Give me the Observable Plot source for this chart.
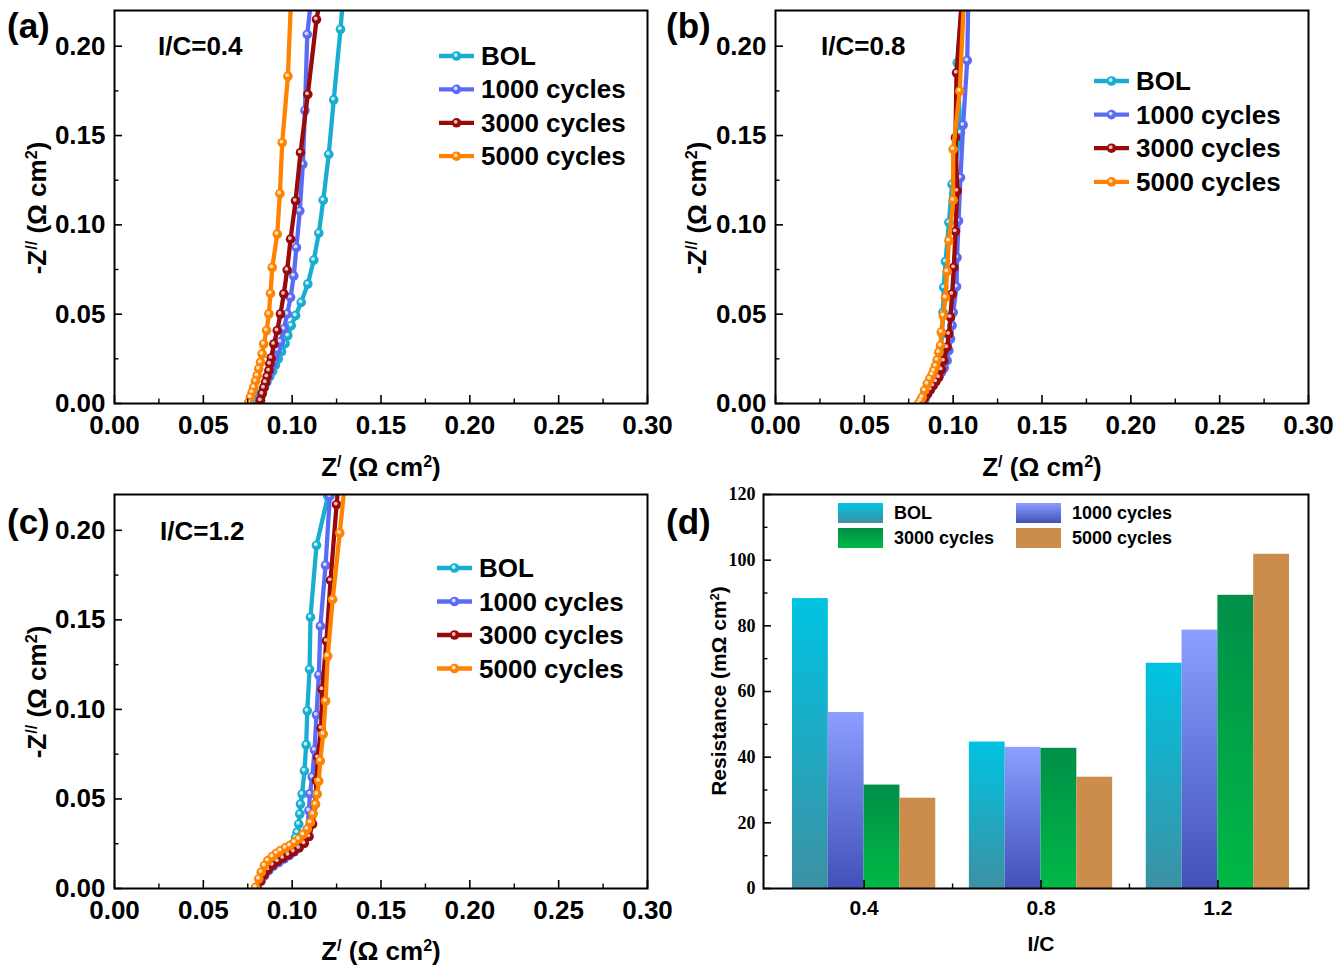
<!DOCTYPE html>
<html><head><meta charset="utf-8">
<script src="https://cdn.jsdelivr.net/npm/d3@7"></script>
<script src="https://cdn.jsdelivr.net/npm/@observablehq/plot@0.6"></script>
<style>
body{margin:0;background:#fff;}
#fig{position:relative;width:1342px;height:973px;overflow:hidden;background:#fff;}
</style></head><body><div id="fig"></div>
<script>
// ---------- data ----------
const seriesNames = ["BOL", "1000 cycles", "3000 cycles", "5000 cycles"];
const lineColors = ["#19aed0", "#5a6cf6", "#990a0a", "#ff8300"];

// Panel (a) I/C = 0.4
const A_BOL_x  = [0.0800,0.0812,0.0826,0.0842,0.0858,0.0874,0.0890,0.0906,0.0922,0.0940,0.0960,0.0976,0.0995,0.1019,0.1051,0.1088,0.1122,0.1150,0.1175,0.1206,0.1234,0.1272,0.1285];
const A_BOL_y  = [0.0000,0.0030,0.0060,0.0090,0.0120,0.0150,0.0180,0.0215,0.0250,0.0290,0.0335,0.0380,0.0436,0.0492,0.0566,0.0669,0.0803,0.0954,0.1138,0.1395,0.1700,0.2095,0.2250];
const A_1000_x = [0.0812,0.0822,0.0833,0.0844,0.0855,0.0866,0.0878,0.0890,0.0903,0.0916,0.0934,0.0953,0.0972,0.0991,0.1009,0.1024,0.1043,0.1060,0.1072,0.1085,0.1105];
const A_1000_y = [0.0000,0.0030,0.0060,0.0090,0.0120,0.0150,0.0185,0.0220,0.0260,0.0300,0.0345,0.0417,0.0501,0.0594,0.0715,0.0873,0.1078,0.1339,0.1640,0.2066,0.2250];
const A_3000_x = [0.0822,0.0831,0.0840,0.0850,0.0859,0.0869,0.0874,0.0882,0.0897,0.0916,0.0934,0.0953,0.0972,0.0991,0.1019,0.1047,0.1088,0.1137,0.1155];
const A_3000_y = [0.0017,0.0054,0.0088,0.0119,0.0151,0.0184,0.0222,0.0255,0.0333,0.0408,0.0501,0.0613,0.0747,0.0920,0.1134,0.1404,0.1730,0.2149,0.2250];
const A_5000_x = [0.0756,0.0765,0.0775,0.0784,0.0794,0.0803,0.0812,0.0822,0.0831,0.0840,0.0856,0.0869,0.0878,0.0888,0.0916,0.0931,0.0944,0.0976,0.0993];
const A_5000_y = [0.0007,0.0035,0.0063,0.0091,0.0125,0.0156,0.0194,0.0231,0.0277,0.0333,0.0408,0.0501,0.0616,0.0762,0.0948,0.1175,0.1460,0.1832,0.2250];

// Panel (b) I/C = 0.8
const B_BOL_x  = [0.0812,0.0822,0.0833,0.0846,0.0860,0.0874,0.0888,0.0900,0.0912,0.0922,0.0930,0.0938,0.0943,0.0947,0.0957,0.0976,0.0994,0.1041,0.1023,0.1050];
const B_BOL_y  = [0.0000,0.0020,0.0040,0.0065,0.0090,0.0118,0.0145,0.0175,0.0210,0.0250,0.0300,0.0390,0.0510,0.0650,0.0795,0.1013,0.1227,0.1516,0.1907,0.2250];
const B_1000_x = [0.0830,0.0842,0.0855,0.0870,0.0886,0.0902,0.0918,0.0935,0.0950,0.0966,0.0976,0.0985,0.0994,0.1000,0.1019,0.1022,0.1030,0.1041,0.1056,0.1079,0.1085];
const B_1000_y = [0.0000,0.0025,0.0050,0.0075,0.0100,0.0125,0.0150,0.0175,0.0200,0.0240,0.0296,0.0361,0.0436,0.0510,0.0654,0.0817,0.1022,0.1264,0.1559,0.1920,0.2250];
const B_3000_x = [0.0815,0.0828,0.0842,0.0857,0.0872,0.0887,0.0903,0.0919,0.0934,0.0947,0.0966,0.0976,0.0985,0.0994,0.1004,0.1013,0.1023,0.1013,0.1019,0.1048];
const B_3000_y = [0.0000,0.0018,0.0037,0.0057,0.0078,0.0100,0.0123,0.0147,0.0190,0.0240,0.0315,0.0389,0.0483,0.0613,0.0762,0.0963,0.1190,0.1488,0.1851,0.2250];
const B_5000_x = [0.0807,0.0817,0.0826,0.0839,0.0854,0.0868,0.0882,0.0891,0.0901,0.0910,0.0919,0.0929,0.0933,0.0944,0.0957,0.0966,0.0976,0.1000,0.1000,0.1037,0.1060];
const B_5000_y = [0.0000,0.0017,0.0035,0.0073,0.0110,0.0138,0.0162,0.0184,0.0210,0.0244,0.0287,0.0324,0.0400,0.0492,0.0594,0.0739,0.0911,0.1138,0.1423,0.1749,0.2250];

// Panel (c) I/C = 1.2
const C_BOL_x  = [0.0800,0.0818,0.0835,0.0855,0.0880,0.0905,0.0930,0.0958,0.0985,0.1005,0.1020,0.1028,0.1037,0.1043,0.1047,0.1056,0.1069,0.1079,0.1085,0.1098,0.1103,0.1137,0.1201,0.1215];
const C_BOL_y  = [0.0000,0.0045,0.0080,0.0112,0.0140,0.0162,0.0180,0.0198,0.0220,0.0250,0.0285,0.0314,0.0360,0.0416,0.0471,0.0527,0.0657,0.0802,0.0992,0.1224,0.1515,0.1916,0.2190,0.2250];
const C_1000_x = [0.0805,0.0825,0.0845,0.0868,0.0895,0.0925,0.0955,0.0985,0.1012,0.1040,0.1065,0.1085,0.1094,0.1100,0.1113,0.1126,0.1137,0.1150,0.1159,0.1188,0.1212,0.1222];
const C_1000_y = [0.0000,0.0040,0.0072,0.0100,0.0125,0.0145,0.0165,0.0185,0.0205,0.0230,0.0265,0.0330,0.0435,0.0529,0.0622,0.0773,0.0969,0.1192,0.1465,0.1805,0.2190,0.2250];
const C_3000_x = [0.0802,0.0822,0.0842,0.0865,0.0890,0.0918,0.0948,0.0978,0.1008,0.1038,0.1068,0.1095,0.1115,0.1130,0.1137,0.1144,0.1163,0.1169,0.1193,0.1216,0.1250,0.1260];
const C_3000_y = [0.0000,0.0042,0.0076,0.0106,0.0132,0.0152,0.0170,0.0188,0.0206,0.0226,0.0252,0.0290,0.0360,0.0470,0.0602,0.0732,0.0895,0.1112,0.1382,0.1720,0.2143,0.2250];
const C_5000_x = [0.0794,0.0812,0.0826,0.0844,0.0863,0.0888,0.0912,0.0934,0.0962,0.0987,0.1013,0.1037,0.1062,0.1085,0.1103,0.1118,0.1131,0.1141,0.1150,0.1158,0.1175,0.1188,0.1200,0.1228,0.1268,0.1295];
const C_5000_y = [0.0007,0.0054,0.0091,0.0128,0.0156,0.0178,0.0197,0.0212,0.0227,0.0240,0.0258,0.0276,0.0301,0.0332,0.0369,0.0416,0.0471,0.0527,0.0600,0.0713,0.0862,0.1047,0.1298,0.1614,0.1985,0.2250];

// Panel (d) resistance bars
const icCategories = ["0.4", "0.8", "1.2"];
const resBOL  = [88.3, 44.6, 68.6];
const res1000 = [53.6, 43.0, 78.7];
const res3000 = [31.5, 42.7, 89.3];
const res5000 = [27.5, 33.9, 101.8];

// Tick values / labels
const zTicks = [0, 0.05, 0.10, 0.15, 0.20, 0.25, 0.30];
const zMinor = [0.025, 0.075, 0.125, 0.175, 0.225, 0.275];
const zyTicks = [0, 0.05, 0.10, 0.15, 0.20];
const zyMinor = [0.025, 0.075, 0.125, 0.175];
const rTicks = [0, 20, 40, 60, 80, 100, 120];
const rMinor = [10, 30, 50, 70, 90, 110];

// ---------- drawing ----------
const SANS = "'Liberation Sans', Arial, Helvetica, sans-serif";
const SERIF = "'Liberation Serif', 'Times New Roman', serif";
const fig = document.getElementById("fig");
function place(svg, left, top) {
  svg.style.position = "absolute";
  svg.style.left = left + "px";
  svg.style.top = top + "px";
  svg.style.maxWidth = "none";
  fig.appendChild(svg);
}

function nyquist(series, left, top, width, height, mL, mR, mT, mB) {
  const fw = width - mL - mR, fh = height - mT - mB;
  const marks = [];
  series.forEach(([xs, ys], i) => {
    const pts = xs.map((x, k) => ({x, y: ys[k]}));
    marks.push(Plot.line(pts, {x: "x", y: "y", stroke: lineColors[i], strokeWidth: 4.3, clip: true}));
    marks.push(Plot.dot(pts, {x: "x", y: "y", r: 4.8, fill: lineColors[i], clip: true}));
    marks.push(Plot.dot(pts, {x: "x", y: "y", r: 1.9, fill: "white", fillOpacity: 0.75, dx: -0.8, dy: -1.1, clip: true}));
  });
  marks.push(
    Plot.frame({stroke: "black", strokeWidth: 2}),
    Plot.tickX(zTicks, {x: d => d, insetTop: fh - 8, stroke: "black", strokeWidth: 1.6}),
    Plot.tickX(zMinor, {x: d => d, insetTop: fh - 4.5, stroke: "black", strokeWidth: 1.4}),
    Plot.tickY(zyTicks, {y: d => d, insetRight: fw - 8, stroke: "black", strokeWidth: 1.6}),
    Plot.tickY(zyMinor, {y: d => d, insetRight: fw - 4.5, stroke: "black", strokeWidth: 1.4}),
    Plot.axisX({ticks: zTicks, tickSize: 0, tickPadding: 12, tickFormat: d3.format(".2f"), label: null, fontSize: 26, fontWeight: "bold"}),
    Plot.axisY({ticks: zyTicks, tickSize: 0, tickPadding: 9, tickFormat: d3.format(".2f"), label: null, fontSize: 26, fontWeight: "bold"})
  );
  const svg = Plot.plot({
    width, height, marginLeft: mL, marginRight: mR, marginTop: mT, marginBottom: mB,
    x: {domain: [0, 0.30]}, y: {domain: [0, 0.22]},
    style: {fontFamily: SANS, fontSize: "26px", fontWeight: "bold", color: "black", background: "transparent", overflow: "visible"},
    marks
  });
  place(svg, left, top);
}

nyquist([[A_BOL_x, A_BOL_y], [A_1000_x, A_1000_y], [A_3000_x, A_3000_y], [A_5000_x, A_5000_y]], 0, 0, 671, 486, 114, 24, 10, 83);
nyquist([[B_BOL_x, B_BOL_y], [B_1000_x, B_1000_y], [B_3000_x, B_3000_y], [B_5000_x, B_5000_y]], 671, 0, 671, 486, 104, 34, 10, 83);
nyquist([[C_BOL_x, C_BOL_y], [C_1000_x, C_1000_y], [C_3000_x, C_3000_y], [C_5000_x, C_5000_y]], 0, 486, 671, 487, 114, 24, 8, 85);

// Panel (d)
(function () {
  const width = 671, height = 487, mL = 92, mR = 34, mT = 8, mB = 85;
  const fh = height - mT - mB;
  const rng = [104, 635], pIn = 0.19, pOut = 0.096;
  const step = (rng[1] - rng[0]) / (icCategories.length - pIn + 2 * pOut);
  const bandW = step * (1 - pIn);
  const bw = bandW / 4;
  const resSeries = [resBOL, res1000, res3000, res5000];
  const marks = resSeries.map((vals, i) =>
    Plot.barY(icCategories.map((c, j) => ({cat: c, value: vals[j]})), {
      x: "cat", y: "value", fill: `url(#barGrad${i})`,
      insetLeft: i * bw, insetRight: (3 - i) * bw
    })
  );
  marks.push(
    Plot.frame({stroke: "black", strokeWidth: 2}),
    Plot.tickX(icCategories, {x: d => d, insetTop: fh - 8, stroke: "black", strokeWidth: 1.6}),
    Plot.tickX(icCategories.slice(0, 2), {x: d => d, dx: step / 2, insetTop: fh - 4.5, stroke: "black", strokeWidth: 1.4}),
    Plot.tickY(rTicks, {y: d => d, insetRight: (width - mL - mR) - 8, stroke: "black", strokeWidth: 1.6}),
    Plot.tickY(rMinor, {y: d => d, insetRight: (width - mL - mR) - 4.5, stroke: "black", strokeWidth: 1.4}),
    Plot.axisX({tickSize: 0, tickPadding: 12, label: null, fontSize: 21, fontWeight: "bold", fontFamily: SANS}),
    Plot.axisY({ticks: rTicks, tickSize: 0, tickPadding: 8, label: null, fontSize: 18, fontWeight: "bold", fontFamily: SERIF})
  );
  const svg = Plot.plot({
    width, height, marginLeft: mL, marginRight: mR, marginTop: mT, marginBottom: mB,
    x: {domain: icCategories, range: rng, paddingInner: pIn, paddingOuter: pOut, round: false},
    y: {domain: [0, 120]},
    style: {fontFamily: SANS, fontWeight: "bold", color: "black", background: "transparent", overflow: "visible"},
    marks
  });
  const grads = [["#00c3e2", "#3c91a3"], ["#8c9eff", "#4151b9"], ["#008f48", "#00b946"], ["#cc8c4b", "#cc8c4b"]];
  const defs = d3.select(svg).insert("defs", ":first-child");
  grads.forEach(([c0, c1], i) => {
    const g = defs.append("linearGradient").attr("id", `barGrad${i}`).attr("x1", 0).attr("y1", 0).attr("x2", 0).attr("y2", 1);
    g.append("stop").attr("offset", "0%").attr("stop-color", c0);
    g.append("stop").attr("offset", "100%").attr("stop-color", c1);
  });
  place(svg, 671, 486);
})();

// ---------- annotations (labels, titles, legends) ----------
const ann = d3.select(fig).append("svg")
  .attr("width", 1342).attr("height", 973)
  .style("position", "absolute").style("left", "0px").style("top", "0px")
  .style("pointer-events", "none")
  .attr("font-family", SANS).attr("font-weight", "bold").attr("fill", "black");

function rich(parts, x, y, size, anchor, rotate) {
  const t = ann.append("text").attr("font-size", size).attr("text-anchor", anchor || "start");
  if (rotate) t.attr("transform", `translate(${x},${y}) rotate(${rotate})`);
  else t.attr("x", x).attr("y", y);
  parts.forEach(p => {
    if (typeof p === "string") t.append("tspan").text(p);
    else t.append("tspan").attr("baseline-shift", "super").attr("font-size", "62%").text(p.sup);
  });
  return t;
}

// panel labels
rich(["(a)"], 7, 38, 35);
rich(["(b)"], 666, 38, 35);
rich(["(c)"], 7, 534, 35);
rich(["(d)"], 666, 534, 35);

// condition labels
rich(["I/C=0.4"], 158, 55, 26);
rich(["I/C=0.8"], 821, 55, 26);
rich(["I/C=1.2"], 160, 540, 26);

// axis titles
const zx = ["Z", {sup: "/"}, " (Ω cm", {sup: "2"}, ")"];
const zy = ["-Z", {sup: "//"}, " (Ω cm", {sup: "2"}, ")"];
rich(zx, 381, 476, 26, "middle");
rich(zx, 1042, 476, 26, "middle");
rich(zx, 381, 960, 26, "middle");
rich(zy, 46, 208, 26, "middle", -90);
rich(zy, 706, 208, 26, "middle", -90);
rich(zy, 46, 692, 26, "middle", -90);
rich(["Resistance (mΩ cm", {sup: "2"}, ")"], 726, 691, 21, "middle", -90);
rich(["I/C"], 1041, 951, 21, "middle");

// Nyquist legends
function nyLegend(x0, y0, gap) {
  seriesNames.forEach((name, i) => {
    const cy = y0 + i * gap;
    ann.append("line").attr("x1", x0).attr("x2", x0 + 35).attr("y1", cy).attr("y2", cy)
      .attr("stroke", lineColors[i]).attr("stroke-width", 4.3);
    ann.append("circle").attr("cx", x0 + 17.5).attr("cy", cy).attr("r", 4.8).attr("fill", lineColors[i]);
    ann.append("circle").attr("cx", x0 + 16.7).attr("cy", cy - 1).attr("r", 1.9).attr("fill", "white").attr("fill-opacity", 0.75);
    rich([name], x0 + 42, cy + 9, 26);
  });
}
nyLegend(439, 56, 33.4);
nyLegend(1094, 81, 33.6);
nyLegend(437, 568, 33.5);

// bar legend
const swGrads = [["#00c3e2", "#3c91a3"], ["#8c9eff", "#4151b9"], ["#008f48", "#00b946"], ["#cc8c4b", "#cc8c4b"]];
const ldefs = ann.append("defs");
swGrads.forEach(([c0, c1], i) => {
  const g = ldefs.append("linearGradient").attr("id", `swGrad${i}`).attr("x1", 0).attr("y1", 0).attr("x2", 0).attr("y2", 1);
  g.append("stop").attr("offset", "0%").attr("stop-color", c0);
  g.append("stop").attr("offset", "100%").attr("stop-color", c1);
});
const swPos = [[838, 503], [1016, 503], [838, 528], [1016, 528]];
seriesNames.forEach((name, i) => {
  const [sx, sy] = swPos[i];
  ann.append("rect").attr("x", sx).attr("y", sy).attr("width", 45).attr("height", 20).attr("fill", `url(#swGrad${i})`);
  rich([name], sx + 56, sy + 16, 18);
});
</script></body></html>
